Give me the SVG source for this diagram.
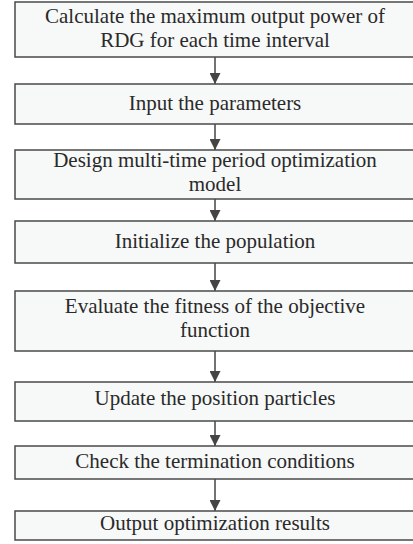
<svg xmlns="http://www.w3.org/2000/svg" width="413" height="544" viewBox="0 0 413 544">
<style>
.box{fill:#f7f8f8;stroke:#4a4a4a;stroke-width:1.5}
.t{font-family:'Liberation Serif','DejaVu Serif',serif;font-size:21px;fill:#2a2a2a;text-anchor:middle}
.c{stroke:#444;stroke-width:1.5;fill:none}
</style>
<defs>
<marker id="ah" viewBox="0 0 10 10" refX="10" refY="5" markerWidth="11" markerHeight="11" markerUnits="userSpaceOnUse" orient="auto">
<path d="M0,0 L10,5 L0,10 z" fill="#444"/>
</marker>
</defs>
<rect width="413" height="544" fill="#fff"/>
<g id="connectors">
<line class="c" x1="215" y1="57" x2="215" y2="84" marker-end="url(#ah)"/>
<line class="c" x1="215" y1="124" x2="215" y2="150" marker-end="url(#ah)"/>
<line class="c" x1="215" y1="199" x2="215" y2="221" marker-end="url(#ah)"/>
<line class="c" x1="215" y1="263" x2="215" y2="291" marker-end="url(#ah)"/>
<line class="c" x1="215" y1="351" x2="215" y2="382" marker-end="url(#ah)"/>
<line class="c" x1="215" y1="421" x2="215" y2="446" marker-end="url(#ah)"/>
<line class="c" x1="215" y1="479" x2="215" y2="511" marker-end="url(#ah)"/>
</g>
<g id="n1"><rect class="box" x="15" y="2" width="400" height="55"/>
<text class="t" x="215" y="23">Calculate the maximum output power of</text>
<text class="t" x="215" y="47">RDG for each time interval</text></g>
<g id="n2"><rect class="box" x="15" y="84" width="400" height="40"/>
<text class="t" x="215" y="110">Input the parameters</text></g>
<g id="n3"><rect class="box" x="15" y="150" width="400" height="49"/>
<text class="t" x="215" y="167">Design multi-time period optimization</text>
<text class="t" x="215" y="191">model</text></g>
<g id="n4"><rect class="box" x="15" y="221" width="400" height="42"/>
<text class="t" x="215" y="248">Initialize the population</text></g>
<g id="n5"><rect class="box" x="15" y="291" width="400" height="60"/>
<text class="t" x="215" y="313">Evaluate the fitness of the objective</text>
<text class="t" x="215" y="337">function</text></g>
<g id="n6"><rect class="box" x="15" y="382" width="400" height="39"/>
<text class="t" x="215" y="405">Update the position particles</text></g>
<g id="n7"><rect class="box" x="15" y="446" width="400" height="33"/>
<text class="t" x="215" y="468">Check the termination conditions</text></g>
<g id="n8"><rect class="box" x="15" y="511" width="400" height="29"/>
<text class="t" x="215" y="530">Output optimization results</text></g>
</svg>
